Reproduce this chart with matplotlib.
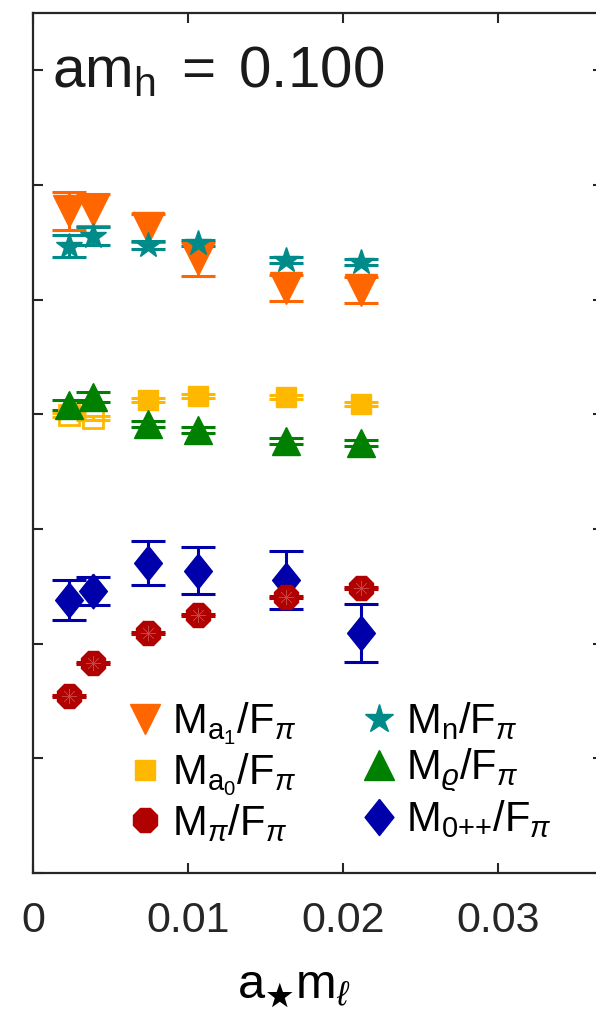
import matplotlib
matplotlib.use("Agg")
from matplotlib import pyplot as plt
from matplotlib.lines import Line2D

plt.rcParams['font.family'] = ['Liberation Sans', 'DejaVu Sans']
plt.rcParams['mathtext.fontset'] = 'custom'
plt.rcParams['mathtext.rm'] = 'Liberation Sans'
plt.rcParams['mathtext.it'] = 'Liberation Sans:italic'
plt.rcParams['mathtext.bf'] = 'Liberation Sans:bold'

# light fermion mass a*m_l
x_ml = [0.00232, 0.00387, 0.00742, 0.01065, 0.01632, 0.02116]

# M/F_pi values
a1 = [11.55, 11.56, 11.25, 10.71, 10.20, 10.17]
a1_err = [0.33, 0.28, 0.25, 0.29, 0.23, 0.23]

nuc = [10.94, 11.11, 10.95, 10.99, 10.69, 10.66]
nuc_err = [0.19, 0.15, 0.07, 0.05, 0.05, 0.05]

a0 = [7.99, 7.94, 8.25, 8.32, 8.30, 8.18]
a0_err = [0.04, 0.04, 0.04, 0.04, 0.04, 0.04]
a0_open = [True, True, False, False, False, False]

rho = [8.16, 8.30, 7.83, 7.73, 7.54, 7.50]
rho_err = [0.09, 0.09, 0.05, 0.05, 0.05, 0.05]

pi = [3.09, 3.66, 4.19, 4.50, 4.81, 4.97]
pi_err = [0.02, 0.02, 0.02, 0.02, 0.02, 0.02]

s0 = [4.76, 4.92, 5.41, 5.27, 5.11, 4.19]
s0_err = [0.35, 0.25, 0.38, 0.41, 0.51, 0.51]

x_ticks = [0, 0.01, 0.02, 0.03]
x_tick_labels = ['0', '0.01', '0.02', '0.03']
y_ticks = [0, 2, 4, 6, 8, 10, 12, 14]

c_a1 = '#FF6600'
c_nuc = '#008B8B'
c_a0 = '#FFB800'
c_rho = '#008000'
c_pi = '#B00000'
c_s0 = '#0000AA'

# a diamond a bit taller than wide, like the MATLAB one
tall_diamond = [(0, 1), (-0.8, 0), (0, -1), (0.8, 0), (0, 1)]


def main():
    fig = plt.figure(figsize=(5.96, 10.10), dpi=100)
    ax = fig.add_axes([0.0554, 0.1356, 0.957, 0.8515])

    eb = dict(fmt='none', elinewidth=2.2, capsize=12, capthick=2.2, zorder=2)
    ax.errorbar(x_ml, a1, yerr=a1_err, ecolor=c_a1, **eb)
    ax.errorbar(x_ml, nuc, yerr=nuc_err, ecolor=c_nuc, **eb)
    ax.errorbar(x_ml, a0, yerr=a0_err, ecolor=c_a0, **eb)
    ax.errorbar(x_ml, rho, yerr=rho_err, ecolor=c_rho, **eb)
    ax.errorbar(x_ml, s0, yerr=s0_err, ecolor=c_s0, **eb)
    ax.errorbar(x_ml, pi, yerr=pi_err, ecolor=c_pi, **eb)

    ax.plot(x_ml, a1, 'v', color=c_a1, ms=23, ls='none', zorder=3)
    ax.plot(x_ml, nuc, '*', color=c_nuc, ms=19, ls='none', zorder=3)
    xa_open = [x for x, o in zip(x_ml, a0_open) if o]
    ya_open = [y for y, o in zip(a0, a0_open) if o]
    xa_fill = [x for x, o in zip(x_ml, a0_open) if not o]
    ya_fill = [y for y, o in zip(a0, a0_open) if not o]
    ax.plot(xa_open, ya_open, 's', mfc='none', mec=c_a0, mew=2, ms=14, ls='none', zorder=3)
    ax.plot(xa_fill, ya_fill, 's', color=c_a0, ms=14.5, ls='none', zorder=3)
    ax.plot(x_ml, rho, '^', color=c_rho, ms=20, ls='none', zorder=3)
    ax.plot(x_ml, s0, marker=tall_diamond, color=c_s0, ms=25, ls='none', zorder=3)
    ax.plot(x_ml, pi, '8', color=c_pi, ms=18.5, ls='none', zorder=4)
    ax.plot(x_ml, pi, marker=(8, 2, 0), color='#D06060', ms=11, mew=0.4, alpha=0.7,
            ls='none', zorder=5)

    ax.set_xlim(0, 0.0368)
    ax.set_ylim(0, 15)
    ax.set_xticks(x_ticks)
    ax.set_xticklabels(x_tick_labels)
    ax.set_yticks(y_ticks)
    ax.tick_params(axis='both', direction='in', length=7.5, width=1.5, colors='#262626',
                   top=True, right=True, labelleft=False, labelsize=31, pad=20)
    for sp in ax.spines.values():
        sp.set_linewidth(1.6)
        sp.set_color('#262626')

    ax.set_xlabel(r'$\mathrm{a}_{\bigstar}\mathrm{m}_{\ell}$', fontsize=35)
    ax.xaxis.set_label_coords(0.4576, -0.107)

    ax.text(0.033, 0.931, r'$\mathrm{am_h}\;=\;0.100$', transform=ax.transAxes,
            fontsize=42, va='center', ha='left', color='#1a1a1a')

    handles = [
        Line2D([], [], marker='v', color=c_a1, ms=21, ls='none'),
        Line2D([], [], marker='s', color=c_a0, ms=14, ls='none'),
        Line2D([], [], marker='8', color=c_pi, ms=19, ls='none'),
        Line2D([], [], marker='*', color=c_nuc, ms=21, ls='none'),
        Line2D([], [], marker='^', color=c_rho, ms=21, ls='none'),
        Line2D([], [], marker=tall_diamond, color=c_s0, ms=26, ls='none'),
    ]
    labels = [
        r'$\mathrm{M}_{\mathrm{a}_1}/\mathrm{F}_{\pi}$',
        r'$\mathrm{M}_{\mathrm{a}_0}/\mathrm{F}_{\pi}$',
        r'$\mathrm{M}_{\pi}/\mathrm{F}_{\pi}$',
        r'$\mathrm{M}_{\mathrm{n}}/\mathrm{F}_{\pi}$',
        r'$\mathrm{M}_{\varrho}/\mathrm{F}_{\pi}$',
        r'$\mathrm{M}_{0{+}{+}}/\mathrm{F}_{\pi}$',
    ]
    ax.legend(handles, labels, ncol=2, loc='upper left', bbox_to_anchor=(0.1225, 0.225),
              frameon=False, fontsize=30, handlelength=1.0, handletextpad=0.15,
              columnspacing=1.5, labelspacing=0.1, borderpad=0)

    fig.savefig('out.png', dpi=100)


if __name__ == "__main__":
    main()
